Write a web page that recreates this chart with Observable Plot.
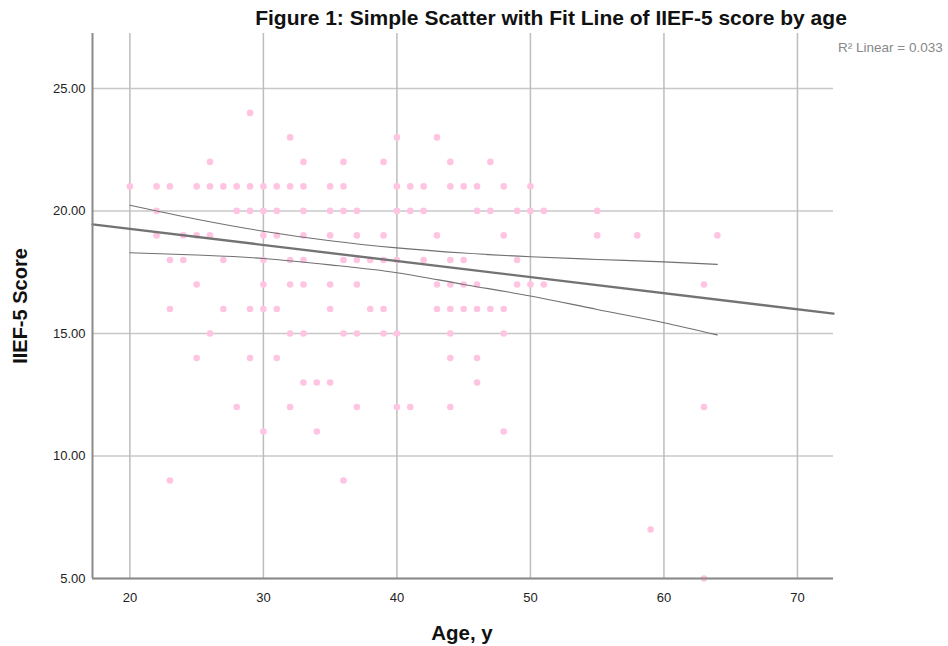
<!DOCTYPE html>
<html>
<head>
<meta charset="utf-8">
<script src="https://cdn.jsdelivr.net/npm/d3@7"></script>
<script src="https://cdn.jsdelivr.net/npm/@observablehq/plot@0.6"></script>
<style>
  body { margin: 0; background: #fff; }
  #wrap { position: relative; width: 948px; height: 646px; overflow: hidden; font-family: "Liberation Sans", Arial, sans-serif; }
  .lbl { position: absolute; white-space: nowrap; }
  #title { left: 551px; top: 18px; transform: translate(-50%, -50%); font-size: 21px; font-weight: bold; color: #111; }
  #r2 { left: 838px; top: 47px; transform: translate(0, -50%); font-size: 13.5px; color: #888; }
  #ylab { left: 20px; top: 306px; transform: translate(-50%, -50%) rotate(-90deg); font-size: 20px; font-weight: bold; color: #111; }
  #xlab { left: 462px; top: 633px; transform: translate(-50%, -50%); font-size: 20.5px; font-weight: bold; color: #111; }
</style>
</head>
<body>
<div id="wrap">
  <div id="chart"></div>
  <div class="lbl" id="title">Figure 1: Simple Scatter with Fit Line of IIEF-5 score by age</div>
  <div class="lbl" id="r2">R² Linear = 0.033</div>
  <div class="lbl" id="ylab">IIEF-5 Score</div>
  <div class="lbl" id="xlab">Age, y</div>
</div>
<script>
// Observed points (age, IIEF-5 score)
const ages = [
  29,
  32, 40, 43,
  26, 33, 36, 39, 44, 47,
  20, 22, 23, 25, 26, 27, 28, 29, 30, 31, 32, 33, 35, 36, 40, 41, 42, 44, 45, 46, 48, 50,
  22, 28, 29, 30, 31, 33, 35, 36, 37, 40, 41, 42, 46, 47, 49, 50, 51, 55,
  22, 24, 25, 26, 30, 31, 33, 35, 37, 39, 43, 48, 55, 58, 64,
  23, 24, 27, 30, 32, 33, 36, 37, 38, 39, 40, 42, 44, 45, 49,
  25, 30, 32, 33, 35, 37, 43, 44, 45, 46, 49, 50, 51, 63,
  23, 27, 29, 30, 31, 35, 38, 39, 43, 44, 45, 46, 47, 48,
  26, 32, 33, 36, 37, 39, 40, 44, 48,
  25, 29, 31, 44, 46,
  33, 34, 35, 46,
  28, 32, 37, 40, 41, 44, 63,
  30, 34, 48,
  23, 36,
  59,
  63
];
const scores = [
  24,
  23, 23, 23,
  22, 22, 22, 22, 22, 22,
  21, 21, 21, 21, 21, 21, 21, 21, 21, 21, 21, 21, 21, 21, 21, 21, 21, 21, 21, 21, 21, 21,
  20, 20, 20, 20, 20, 20, 20, 20, 20, 20, 20, 20, 20, 20, 20, 20, 20, 20,
  19, 19, 19, 19, 19, 19, 19, 19, 19, 19, 19, 19, 19, 19, 19,
  18, 18, 18, 18, 18, 18, 18, 18, 18, 18, 18, 18, 18, 18, 18,
  17, 17, 17, 17, 17, 17, 17, 17, 17, 17, 17, 17, 17, 17,
  16, 16, 16, 16, 16, 16, 16, 16, 16, 16, 16, 16, 16, 16,
  15, 15, 15, 15, 15, 15, 15, 15, 15,
  14, 14, 14, 14, 14,
  13, 13, 13, 13,
  12, 12, 12, 12, 12, 12, 12,
  11, 11, 11,
  9, 9,
  7,
  5
];

// Linear fit line (spans the whole axis)
const fitAge = [17.2, 72.7];
const fitScore = [19.45, 15.81];

// 95% CI of the mean
const ciAge = [20, 25, 30, 35, 40, 45, 50, 55, 60, 64];
const ciUpper = [20.23, 19.66, 19.17, 18.78, 18.49, 18.28, 18.13, 18.02, 17.92, 17.82];
const ciLower = [18.29, 18.20, 18.06, 17.80, 17.48, 17.00, 16.53, 15.98, 15.44, 14.94];

// Axis ticks
const xTicks = [20, 30, 40, 50, 60, 70];
const yTicks = [5, 10, 15, 20, 25];
const xDomain = [17.2, 72.7];
const yDomain = [5, 27.24];

const points = ages.map((a, i) => ({age: a, score: scores[i]}));
const fit = fitAge.map((a, i) => ({age: a, score: fitScore[i]}));
const upper = ciAge.map((a, i) => ({age: a, score: ciUpper[i]}));
const lower = ciAge.map((a, i) => ({age: a, score: ciLower[i]}));

const chart = Plot.plot({
  width: 948,
  height: 646,
  marginLeft: 92,
  marginRight: 115,
  marginTop: 33,
  marginBottom: 68,
  style: {fontFamily: "'Liberation Sans', Arial, sans-serif", fontSize: "13px", color: "#222", background: "#fff"},
  x: {domain: xDomain, ticks: xTicks, label: null},
  y: {domain: yDomain, ticks: yTicks, label: null, tickFormat: d3.format(".2f")},
  marks: [
    Plot.gridY(yTicks, {stroke: "#c8c8c8", strokeOpacity: 1, strokeWidth: 1.5}),
    Plot.gridX(xTicks, {stroke: "#bdbdbd", strokeOpacity: 1, strokeWidth: 1.5}),
    Plot.axisX(xTicks, {tickSize: 0, tickPadding: 14, label: null, fill: "#222"}),
    Plot.axisY(yTicks, {tickSize: 0, tickPadding: 7, label: null, tickFormat: d3.format(".2f"), fill: "#222"}),
    Plot.dot(points, {x: "age", y: "score", r: 3.3, fill: "#ffc4e1", stroke: "none"}),
    Plot.line(upper, {x: "age", y: "score", stroke: "#707070", strokeWidth: 1.1, curve: "monotone-x"}),
    Plot.line(lower, {x: "age", y: "score", stroke: "#707070", strokeWidth: 1.1, curve: "monotone-x"}),
    Plot.line(fit, {x: "age", y: "score", stroke: "#737373", strokeWidth: 2.4}),
    Plot.ruleX([xDomain[0]], {stroke: "#8a8a8a", strokeWidth: 2}),
    Plot.ruleY([yDomain[0]], {stroke: "#8a8a8a", strokeWidth: 2})
  ]
});
document.getElementById("chart").appendChild(chart);
</script>
</body>
</html>
